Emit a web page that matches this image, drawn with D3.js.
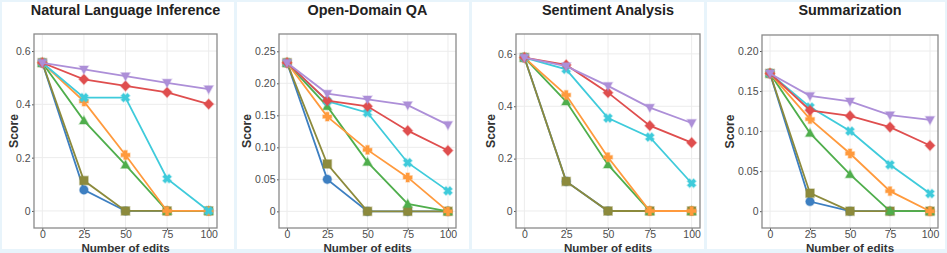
<!DOCTYPE html>
<html>
<head>
<meta charset="utf-8">
<script src="https://cdn.jsdelivr.net/npm/d3@7"></script>
<style>
  body { margin: 0; background: #e8f4fb; }
  svg { display: block; font-family: "Liberation Sans", Arial, sans-serif; }
</style>
</head>
<body>
<svg id="chart" width="947" height="253"></svg>
<script>
// x categories (number of edits)
const edits = [0, 25, 50, 75, 100];

// series order: blue, olive, green, orange, cyan, red, purple
const seriesNames = ["Method A", "Method B", "Method C", "Method D", "Method E", "Method F", "Method G"];
const seriesColors = ["#3d7fc1", "#8c8a3c", "#4fae4c", "#ff9a3d", "#3fcbdb", "#df4e4e", "#ad8fd8"];
const seriesShapes = ["circle", "square", "triangle", "cross", "x", "diamond", "triangleDown"];

// Natural Language Inference
const nliScores = [
  [0.556, 0.079, 0, 0, 0],
  [0.556, 0.114, 0, 0, 0],
  [0.556, 0.339, 0.173, 0, 0],
  [0.556, 0.411, 0.21, 0, 0],
  [0.556, 0.425, 0.425, 0.121, 0],
  [0.556, 0.494, 0.469, 0.445, 0.401],
  [0.556, 0.531, 0.506, 0.481, 0.457]
];
// Open-Domain QA
const odqaScores = [
  [0.232, 0.050, 0, 0, 0],
  [0.232, 0.074, 0, 0, 0],
  [0.232, 0.164, 0.077, 0.0115, 0],
  [0.232, 0.148, 0.096, 0.053, 0],
  [0.232, 0.172, 0.154, 0.076, 0.032],
  [0.232, 0.173, 0.164, 0.126, 0.095],
  [0.232, 0.184, 0.175, 0.166, 0.135]
];
// Sentiment Analysis
const saScores = [
  [0.586, 0.113, 0, 0, 0],
  [0.586, 0.113, 0, 0, 0],
  [0.586, 0.418, 0.177, 0, 0],
  [0.586, 0.443, 0.205, 0, 0],
  [0.586, 0.541, 0.355, 0.282, 0.106],
  [0.586, 0.558, 0.452, 0.326, 0.261],
  [0.586, 0.553, 0.478, 0.395, 0.336]
];
// Summarization
const sumScores = [
  [0.172, 0.012, 0, 0, 0],
  [0.172, 0.0225, 0, 0, 0],
  [0.172, 0.0975, 0.046, 0, 0],
  [0.172, 0.115, 0.072, 0.025, 0],
  [0.172, 0.130, 0.100, 0.058, 0.022],
  [0.172, 0.126, 0.119, 0.105, 0.082],
  [0.172, 0.144, 0.137, 0.120, 0.114]
];

const titles = ["Natural Language Inference", "Open-Domain QA", "Sentiment Analysis", "Summarization"];
const yTicks = [[0, 0.2, 0.4, 0.6], [0, 0.05, 0.10, 0.15, 0.20, 0.25], [0, 0.2, 0.4, 0.6], [0, 0.05, 0.10, 0.15, 0.20]];
const yDomains = [[-0.064, 0.664], [-0.026, 0.277], [-0.065, 0.676], [-0.021, 0.22]];
const tickDecimals = [1, 2, 1, 2];
const allScores = [nliScores, odqaScores, saScores, sumScores];

// panel layout (pixels)
const panels = [
  { bg: [2, 234], x0: 34, x1: 217, y0: 34, y1: 228, ylab: 14 },
  { bg: [237, 469], x0: 279, x1: 456, y0: 34, y1: 228, ylab: 247 },
  { bg: [472, 704], x0: 516, x1: 700, y0: 34, y1: 228, ylab: 491 },
  { bg: [707, 945], x0: 762, x1: 938, y0: 35, y1: 228, ylab: 730 }
];

const svg = d3.select("#chart");

const markerPath = (shape, s) => {
  const h = s / 2;
  switch (shape) {
    case "circle": return d3.symbol(d3.symbolCircle, s * s * 0.8)();
    case "square": return `M${-h},${-h}H${h}V${h}H${-h}Z`;
    case "triangle": return `M0,${-h * 1.1}L${h * 1.05},${h * 0.8}L${-h * 1.05},${h * 0.8}Z`;
    case "triangleDown": return `M0,${h * 1.1}L${h * 1.05},${-h * 0.8}L${-h * 1.05},${-h * 0.8}Z`;
    case "diamond": return `M0,${-h * 1.2}L${h * 1.15},0L0,${h * 1.2}L${-h * 1.15},0Z`;
    case "cross":
    case "x": {
      // plus shape; the "x" one is rotated 45 degrees when drawn
      const a = h * 0.4, b = h * 1.05;
      return `M${-a},${-b}H${a}V${-a}H${b}V${a}H${a}V${b}H${-a}V${a}H${-b}V${-a}H${-a}Z`;
    }
  }
};

panels.forEach((p, i) => {
  // white panel background
  svg.append("rect")
    .attr("x", p.bg[0]).attr("y", 2)
    .attr("width", p.bg[1] - p.bg[0]).attr("height", 247)
    .attr("fill", "#fff");

  const x = d3.scaleLinear().domain([-5, 105]).range([p.x0, p.x1]);
  const y = d3.scaleLinear().domain(yDomains[i]).range([p.y1, p.y0]);
  const g = svg.append("g");

  // grid
  g.selectAll(".gx").data(edits).join("line")
    .attr("x1", d => x(d)).attr("x2", d => x(d))
    .attr("y1", p.y0).attr("y2", p.y1)
    .attr("stroke", "#ececec").attr("stroke-width", 1);
  g.selectAll(".gy").data(yTicks[i]).join("line")
    .attr("x1", p.x0).attr("x2", p.x1)
    .attr("y1", d => y(d)).attr("y2", d => y(d))
    .attr("stroke", "#ececec").attr("stroke-width", 1);

  // axes
  const fmt = d => d === 0 ? "0" : d3.format(`.${tickDecimals[i]}f`)(d);
  const xAxis = g.append("g")
    .attr("transform", `translate(0,${p.y1})`)
    .call(d3.axisBottom(x).tickValues(edits).tickSize(2).tickPadding(1));
  const yAxis = g.append("g")
    .attr("transform", `translate(${p.x0},0)`)
    .call(d3.axisLeft(y).tickValues(yTicks[i]).tickFormat(fmt).tickSize(2).tickPadding(1.5));
  [xAxis, yAxis].forEach(a => {
    a.select(".domain").remove();
    a.selectAll(".tick line").attr("stroke", "#555");
    a.selectAll(".tick text").attr("fill", "#4d4d4d")
      .style("font-size", "10.5px").style("font-family", "'Liberation Sans', Arial, sans-serif");
  });

  // series
  const line = d3.line().x((d, j) => x(edits[j])).y(d => y(d));
  allScores[i].forEach((vals, k) => {
    const s = g.append("g");
    s.append("path").datum(vals)
      .attr("d", line)
      .attr("fill", "none")
      .attr("stroke", seriesColors[k])
      .attr("stroke-width", 1.8);
    s.selectAll("path.m").data(vals).join("path")
      .attr("class", "m")
      .attr("transform", (d, j) => `translate(${x(edits[j])},${y(d)})` + (seriesShapes[k] === "x" ? " rotate(45)" : ""))
      .attr("d", markerPath(seriesShapes[k], 8.5))
      .attr("fill", seriesColors[k])
      .attr("stroke", seriesColors[k])
      .attr("stroke-opacity", 0.35)
      .attr("stroke-width", 1.5);
  });

  // frame
  g.append("rect")
    .attr("x", p.x0).attr("y", p.y0)
    .attr("width", p.x1 - p.x0).attr("height", p.y1 - p.y0)
    .attr("fill", "none").attr("stroke", "#8a8a8a").attr("stroke-width", 1.3);

  // titles
  svg.append("text")
    .attr("x", (p.x0 + p.x1) / 2).attr("y", 14.5)
    .attr("text-anchor", "middle")
    .attr("font-weight", "bold").attr("font-size", 14.4)
    .attr("fill", "#222")
    .text(titles[i]);
  svg.append("text")
    .attr("x", (p.x0 + p.x1) / 2).attr("y", 252)
    .attr("text-anchor", "middle")
    .attr("font-weight", "bold").attr("font-size", 11.6)
    .attr("fill", "#333")
    .text("Number of edits");
  svg.append("text")
    .attr("transform", `translate(${p.ylab + 4.3},${(p.y0 + p.y1) / 2}) rotate(-90)`)
    .attr("text-anchor", "middle")
    .attr("font-weight", "bold").attr("font-size", 12.2)
    .attr("fill", "#333")
    .text("Score");
});
</script>
</body>
</html>
